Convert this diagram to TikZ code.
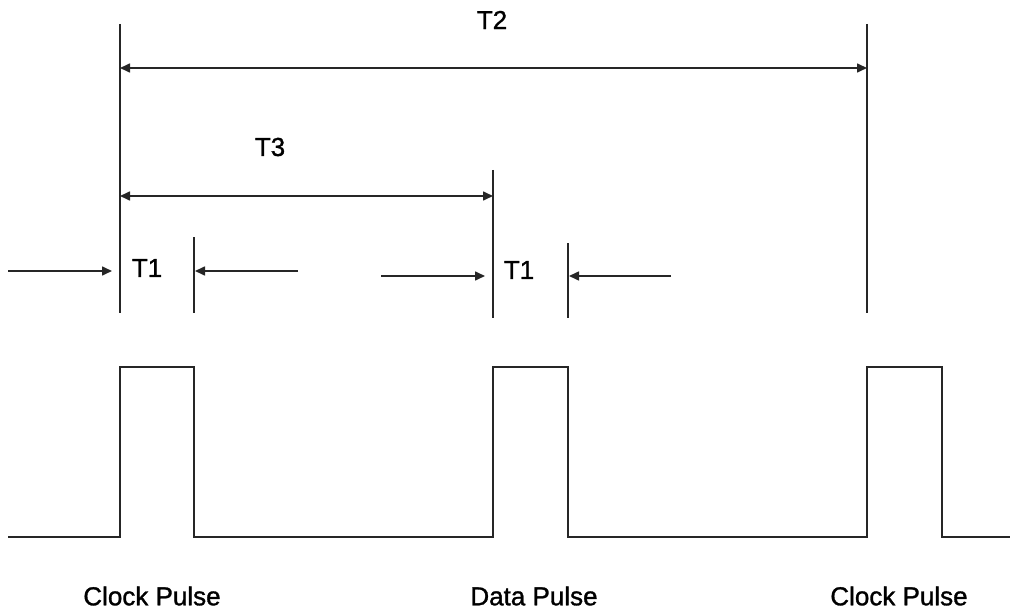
\documentclass[tikz,border=0pt]{standalone}
\usepackage{fontspec}
\setmainfont{Liberation Sans}[FakeBold=1.2]
\usetikzlibrary{arrows.meta}
\begin{document}
\begin{tikzpicture}[x=1pt,y=-1pt,
  wire/.style={line width=1.6pt,black!85},
  dim/.style={line width=1.6pt,black!85,-{Triangle[length=10pt,width=9pt]}},
  dimb/.style={line width=1.6pt,black!85,{Triangle[length=10pt,width=9pt]}-{Triangle[length=10pt,width=9pt]}},
  lbl/.style={font=\fontsize{26}{28}\selectfont,inner sep=0pt}]
\useasboundingbox (0,0) rectangle (1010,615);
% extension lines
\coordinate (a1) at (120,24);  \coordinate (a2) at (120,313);
\coordinate (b1) at (194,237); \coordinate (b2) at (194,313);
\coordinate (c1) at (493,170); \coordinate (c2) at (493,318);
\coordinate (d1) at (568,243); \coordinate (d2) at (568,318);
\coordinate (e1) at (867,24);  \coordinate (e2) at (867,313);
\draw[wire] (a1) -- (a2);
\draw[wire] (b1) -- (b2);
\draw[wire] (c1) -- (c2);
\draw[wire] (d1) -- (d2);
\draw[wire] (e1) -- (e2);
% T2
\coordinate (t2l) at (120,68); \coordinate (t2r) at (867,68);
\draw[dimb] (t2l) -- (t2r);
\node[lbl] (T2) at (492,20) {T2};
% T3
\coordinate (t3l) at (120,196); \coordinate (t3r) at (493,196);
\draw[dimb] (t3l) -- (t3r);
\node[lbl] (T3) at (270,147) {T3};
% T1 first
\coordinate (p1s) at (8,271);   \coordinate (p1e) at (112,271);
\coordinate (q1s) at (298,271); \coordinate (q1e) at (195,271);
\draw[dim] (p1s) -- (p1e);
\draw[dim] (q1s) -- (q1e);
\node[lbl] (T1a) at (147,268) {T1};
% T1 second
\coordinate (p2s) at (381,276); \coordinate (p2e) at (485,276);
\coordinate (q2s) at (671,276); \coordinate (q2e) at (569,276);
\draw[dim] (p2s) -- (p2e);
\draw[dim] (q2s) -- (q2e);
\node[lbl] (T1b) at (519,270) {T1};
% waveform
\draw[wire] (8,537) -- (120,537) -- (120,367) -- (194,367) -- (194,537)
  -- (493,537) -- (493,367) -- (568,367) -- (568,537)
  -- (867,537) -- (867,367) -- (942,367) -- (942,537) -- (1010,537);
% labels
\node[lbl] (cp1) at (152,596) {Clock Pulse};
\node[lbl] (dp) at (534,596) {Data Pulse};
\node[lbl] (cp2) at (899,596) {Clock Pulse};
\end{tikzpicture}
\end{document}
